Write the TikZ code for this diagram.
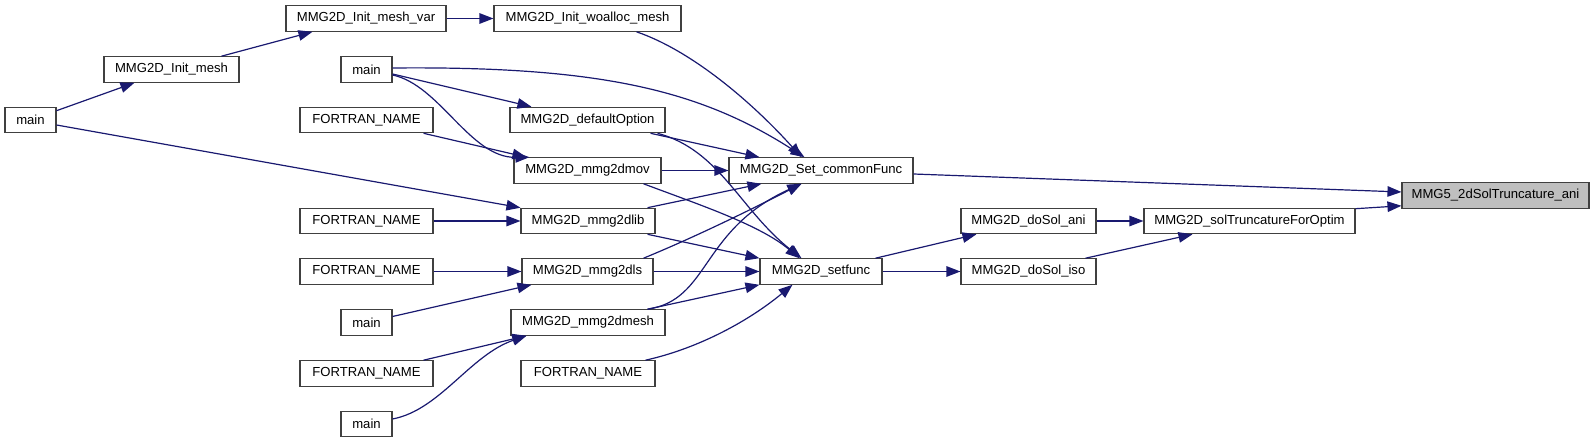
\documentclass[tikz,border=0pt]{standalone}
\usepackage{fontspec}
\setmainfont{Liberation Sans}
\usetikzlibrary{arrows.meta,calc}
\definecolor{edgeblue}{HTML}{191970}
\definecolor{boxgray}{HTML}{BFBFBF}
\tikzset{
  box/.style={draw=black!75, line width=1.1pt, fill=white, minimum height=25.5pt, inner sep=0pt,
    font=\fontsize{13.1}{15}\selectfont, anchor=center},
  edge/.style={draw=edgeblue, line width=1.2pt, -{Triangle[length=14pt,width=10.5pt]}}
}
\begin{document}
\begin{tikzpicture}[x=1pt,y=-1pt]
\useasboundingbox (0,0) rectangle (1595,443);
% nodes
\node[box, minimum width=51pt] (mainL) at (30.5,120) {main};
\node[box, minimum width=135pt] (initmesh) at (171.5,69.5) {MMG2D\_Init\_mesh};
\node[box, minimum width=160pt] (initmeshvar) at (366,18.5) {MMG2D\_Init\_mesh\_var};
\node[box, minimum width=187pt] (woalloc) at (587.5,18.5) {MMG2D\_Init\_woalloc\_mesh};
\node[box, minimum width=51pt] (mainA) at (366.5,69.5) {main};
\node[box, minimum width=133pt] (fnA) at (366.5,120) {FORTRAN\_NAME};
\node[box, minimum width=133pt] (fnB) at (366.5,221) {FORTRAN\_NAME};
\node[box, minimum width=133pt] (fnC) at (366.5,271.5) {FORTRAN\_NAME};
\node[box, minimum width=51pt] (mainB) at (366.5,322.5) {main};
\node[box, minimum width=133pt] (fnD) at (366.5,373.5) {FORTRAN\_NAME};
\node[box, minimum width=51pt] (mainC) at (366.5,424) {main};
\node[box, minimum width=155pt] (defopt) at (587.5,120) {MMG2D\_defaultOption};
\node[box, minimum width=147pt] (mov) at (587.5,170.5) {MMG2D\_mmg2dmov};
\node[box, minimum width=134pt] (lib) at (588,221) {MMG2D\_mmg2dlib};
\node[box, minimum width=131pt] (ls) at (587.5,271.5) {MMG2D\_mmg2dls};
\node[box, minimum width=154pt] (mesh) at (588,322.5) {MMG2D\_mmg2dmesh};
\node[box, minimum width=134pt] (fnE) at (588,373.5) {FORTRAN\_NAME};
\node[box, minimum width=184pt] (setcommon) at (821,170.5) {MMG2D\_Set\_commonFunc};
\node[box, minimum width=122pt] (setfunc) at (821,271.5) {MMG2D\_setfunc};
\node[box, minimum width=135pt] (doani) at (1028.5,221) {MMG2D\_doSol\_ani};
\node[box, minimum width=135pt] (doiso) at (1028.5,271.5) {MMG2D\_doSol\_iso};
\node[box, minimum width=211pt] (soltrunc) at (1249.5,221) {MMG2D\_solTruncatureForOptim};
\node[box, minimum width=187pt, fill=boxgray] (mmg5) at (1495.5,195.5) {MMG5\_2dSolTruncature\_ani};
% edges
\draw[edge] ($(mainL.north east)+(0,4)$) -- ($(initmesh.south west)+(31,0)$);
\draw[edge] ($(initmesh.north west)+(118,0)$) -- ($(initmeshvar.south west)+(27,0)$);
\draw[edge] (initmeshvar.east) -- (woalloc.west);
\draw[edge] ($(woalloc.south west)+(143,0)$) .. controls (690,50) and (750,100) .. ($(setcommon.north west)+(73,0)$);
\draw[edge] ($(mainA.east)+(0,-1.5)$) .. controls (600,66) and (700,90) .. ($(setcommon.north west)+(76,0)$);
\draw[edge] ($(mainA.east)+(0,4.5)$) -- ($(defopt.north west)+(22,0)$);
\draw[edge] ($(mainA.east)+(0,5.5)$) .. controls (440,85) and (470,158) .. ($(mov.north west)+(16,0)$);
\draw[edge] ($(fnA.south east)+(-10,0)$) -- ($(mov.north west)+(13,0)$);
\draw[edge] ($(defopt.south east)+(-15,0)$) -- ($(setcommon.north west)+(31,0)$);
\draw[edge] ($(defopt.south east)+(-8,0)$) .. controls (720,150) and (740,210) .. ($(setfunc.north west)+(42,0)$);
\draw[edge] (mov.east) -- (setcommon.west);
\draw[edge] ($(mov.south east)+(-18,0)$) .. controls (700,205) and (760,225) .. ($(setfunc.north west)+(40,0)$);
\draw[edge] ($(lib.north east)+(-8,0)$) -- ($(setcommon.south west)+(33,0)$);
\draw[edge] ($(lib.south east)+(-8,0)$) -- (setfunc.north west);
\draw[edge] ($(mainL.east)+(0,5)$) -- (lib.north west);
\draw[edge] (fnB.east) -- (lib.west);
\draw[edge] ($(ls.north east)+(-10,0)$) .. controls (700,235) and (760,205) .. ($(setcommon.south west)+(73,0)$);
\draw[edge] (ls.east) -- (setfunc.west);
\draw[edge] (fnC.east) -- (ls.west);
\draw[edge] ($(mainB.east)+(0,-6)$) -- ($(ls.south west)+(10,0)$);
\draw[edge] ($(mesh.north east)+(-18,0)$) .. controls (710,300) and (700,230) .. ($(setcommon.south west)+(73,0)$);
\draw[edge] ($(mesh.north east)+(-18,0)$) -- (setfunc.south west);
\draw[edge] ($(fnD.north east)+(-10,0)$) -- ($(mesh.south west)+(16,0)$);
\draw[edge] ($(mainC.east)+(0,-5)$) .. controls (440,410) and (470,355) .. ($(mesh.south west)+(16,0)$);
\draw[edge] ($(fnE.north east)+(-10,0)$) .. controls (700,348) and (750,320) .. ($(setfunc.south west)+(33,0)$);
\draw[edge] ($(setfunc.north east)+(-7,0)$) -- ($(doani.south west)+(16,0)$);
\draw[edge] (setfunc.east) -- (doiso.west);
\draw[edge] (doani.east) -- (soltrunc.west);
\draw[edge] ($(doiso.north east)+(-11,0)$) -- ($(soltrunc.south west)+(49,0)$);
\draw[edge] ($(soltrunc.north east)+(0,1)$) -- ($(mmg5.south west)+(0,-3)$);
\draw[edge] ($(setcommon.east)+(0,3.5)$) -- ($(mmg5.west)+(0,-3.5)$);
\end{tikzpicture}
\end{document}
